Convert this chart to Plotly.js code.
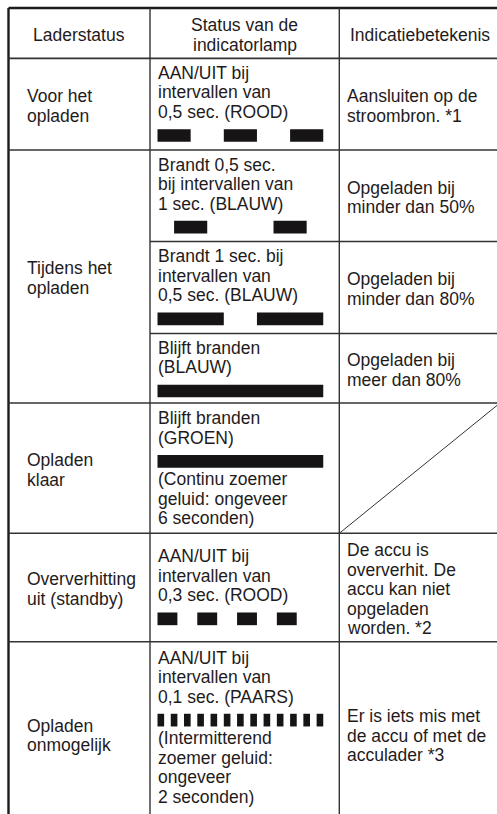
<!DOCTYPE html>
<html><head><meta charset="utf-8">
<script src="https://cdn.plot.ly/plotly-3.0.1.min.js"></script>
<style>html,body{margin:0;padding:0;background:#fff;overflow:hidden}</style>
</head><body><div id="chart" style="width:497px;height:814px"></div>
<script>
// ---------------- data ----------------
const headerTexts = [["Laderstatus"], ["Status van de", "indicatorlamp"], ["Indicatiebetekenis"]];

const statusLabels = [["Voor het", "opladen"], ["Tijdens het", "opladen"], ["Opladen", "klaar"],
                      ["Oververhitting", "uit (standby)"], ["Opladen", "onmogelijk"]];
const statusRowSpans = [1, 3, 1, 1, 1];

const lampLines = [
  ["AAN/UIT bij", "intervallen van", "0,5 sec. (ROOD)"],
  ["Brandt 0,5 sec.", "bij intervallen van", "1 sec. (BLAUW)"],
  ["Brandt 1 sec. bij", "intervallen van", "0,5 sec. (BLAUW)"],
  ["Blijft branden", "(BLAUW)"],
  ["Blijft branden", "(GROEN)"],
  ["AAN/UIT bij", "intervallen van", "0,3 sec. (ROOD)"],
  ["AAN/UIT bij", "intervallen van", "0,1 sec. (PAARS)"]
];
const lampNotes = [
  [], [], [], [],
  ["(Continu zoemer", "geluid: ongeveer", "6 seconden)"],
  [],
  ["(Intermitterend", "zoemer geluid:", "ongeveer", "2 seconden)"]
];
// lamp "on" moments (seconds) and on-duration per row
const blinkStarts = [
  [0, 1, 2],
  [0.25, 1.75],
  [0, 1.5],
  [0],
  [0],
  [0, 0.6, 1.2, 1.8],
  [0, 0.2, 0.4, 0.6, 0.8, 1.0, 1.2, 1.4, 1.6, 1.8, 2.0, 2.2, 2.4]
];
const blinkDurations = [0.5, 0.5, 1, 2.5, 2.5, 0.3, 0.1];

const meaningTexts = [
  ["Aansluiten op de", "stroombron. *1"],
  ["Opgeladen bij", "minder dan 50%"],
  ["Opgeladen bij", "minder dan 80%"],
  ["Opgeladen bij", "meer dan 80%"],
  null,
  ["De accu is", "oververhit. De", "accu kan niet", "opgeladen", "worden. *2"],
  ["Er is iets mis met", "de accu of met de", "acculader *3"]
];

// ---------------- layout constants ----------------
const W = 497, H = 814;
const colEdges = [8.5, 150, 339.3, 500];
const rowEdges = [8, 58.3, 150, 241.5, 333.5, 403, 533.3, 641.7, 826];
const FS = 17.5, LS = 19.5, CAP = FS * 0.716, MID = FS * 0.3465, ADJ = 1.5;
const BAR_X0 = 157.5, PX_PER_S = 66.3, BAR_H = 12.7;
const BAR_GAP = 17.5, NOTE_GAP = 24;
const TXT = '#1f1b1c', LINE = '#363233', FONT = 'Liberation Sans, Arial, sans-serif';
const TEXT_X = [26, 156.5, 346];

const annotations = [];
function addLine(text, x, baseline, anchor) {
  annotations.push({x: x, y: baseline - MID, xref: 'x', yref: 'y', text: text, showarrow: false,
    xanchor: anchor, yanchor: 'middle', borderpad: 0,
    font: {family: FONT, size: FS, color: TXT}});
}
function centeredBlock(lines, x, top, bottom, anchor) {
  const c = (top + bottom) / 2;
  const b1 = c - (lines.length - 1) * LS / 2 + CAP / 2 + ADJ;
  lines.forEach((t, k) => addLine(t, x, b1 + k * LS, anchor));
}

// headers
headerTexts.forEach((lines, j) => {
  centeredBlock(lines, (colEdges[j] + colEdges[j + 1]) / 2, rowEdges[0], rowEdges[1], 'center');
});

// column 1 (with row spans)
let r = 1;
statusLabels.forEach((lines, i) => {
  const top = rowEdges[r], bottom = rowEdges[r + statusRowSpans[i]];
  centeredBlock(lines, TEXT_X[0], top, bottom, 'left');
  r += statusRowSpans[i];
});

// column 2: text + indicator bars
const barY = [], barBase = [], barLen = [];
lampLines.forEach((lines, i) => {
  const top = rowEdges[i + 1], bottom = Math.min(rowEdges[i + 2], H - 2);
  const notes = lampNotes[i];
  const rel = (lines.length - 1) * LS + BAR_GAP;
  const endRel = notes.length ? rel + NOTE_GAP + (notes.length - 1) * LS : rel + BAR_H / 2;
  const blockH = CAP + endRel;
  const b1 = top + Math.max(20.5, (bottom - top - blockH) / 2 + CAP);
  lines.forEach((t, k) => addLine(t, TEXT_X[1], b1 + k * LS, 'left'));
  const bc = b1 + rel;
  blinkStarts[i].forEach(s => { barY.push(bc); barBase.push(s); barLen.push(blinkDurations[i]); });
  notes.forEach((t, k) => addLine(t, TEXT_X[1], bc + NOTE_GAP + k * LS, 'left'));
});

// column 3
meaningTexts.forEach((lines, i) => {
  if (!lines) return;
  centeredBlock(lines, TEXT_X[2], rowEdges[i + 1], rowEdges[i + 2], 'left');
});

// grid lines
const shapes = [];
function ln(x0, y0, x1, y1, w, c) {
  shapes.push({type: 'line', xref: 'x', yref: 'y', x0: x0, y0: y0, x1: x1, y1: y1,
    line: {color: c || LINE, width: w}});
}
ln(colEdges[0], rowEdges[0], colEdges[3], rowEdges[0], 2.6, TXT);
ln(colEdges[0], rowEdges[0], colEdges[0], H, 2.4, TXT);
ln(colEdges[0], rowEdges[1], colEdges[3], rowEdges[1], 1.8);
[2, 5, 6, 7].forEach(k => ln(colEdges[0], rowEdges[k], colEdges[3], rowEdges[k], 1.6));
[3, 4].forEach(k => ln(colEdges[1], rowEdges[k], colEdges[3], rowEdges[k], 1.4));
[1, 2].forEach(k => ln(colEdges[k], rowEdges[0], colEdges[k], H, 1.4));
ln(colEdges[2], rowEdges[6], colEdges[3], rowEdges[5], 1);

const trace = {
  type: 'bar', orientation: 'h', x: barLen, base: barBase, y: barY, width: BAR_H,
  xaxis: 'x2', yaxis: 'y', marker: {color: '#161414', line: {width: 0}}, hoverinfo: 'skip'
};

const layout = {
  width: W, height: H, margin: {l: 0, r: 0, t: 0, b: 0, pad: 0},
  paper_bgcolor: '#fff', plot_bgcolor: '#fff', showlegend: false, barmode: 'overlay',
  xaxis: {range: [0, W], visible: false, fixedrange: true},
  xaxis2: {overlaying: 'x', range: [-BAR_X0 / PX_PER_S, (W - BAR_X0) / PX_PER_S], visible: false, fixedrange: true},
  yaxis: {range: [H, 0], visible: false, fixedrange: true},
  shapes: shapes, annotations: annotations
};
Plotly.newPlot('chart', [trace], layout, {staticPlot: true, displayModeBar: false});
</script></body></html>
